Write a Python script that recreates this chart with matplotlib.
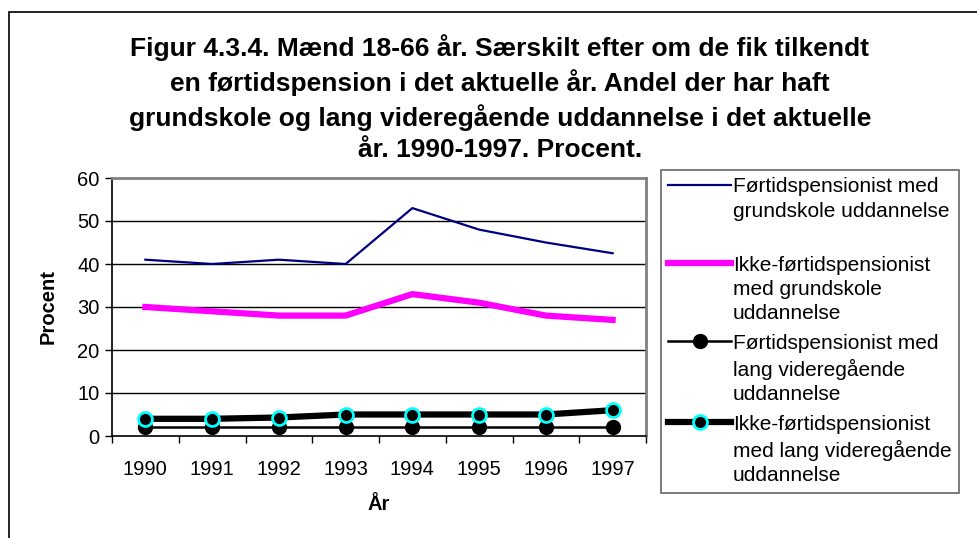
import matplotlib.pyplot as plt
from matplotlib.patches import Rectangle
from matplotlib.offsetbox import HPacker

plt.rcParams['font.family'] = ['Liberation Sans', 'DejaVu Sans']

# data
years = ['1990', '1991', '1992', '1993', '1994', '1995', '1996', '1997']
fp_grund = [41, 40, 41, 40, 53, 48, 45, 42.5]
ikke_grund = [30, 29, 28, 28, 33, 31, 28, 27]
fp_lang = [2, 2, 2, 2, 2, 2, 2, 2]
ikke_lang = [4, 4, 4.3, 5, 5, 5, 5, 6]

labels = ['Førtidspensionist med\ngrundskole uddannelse\n ',
          'Ikke-førtidspensionist\nmed grundskole\nuddannelse',
          'Førtidspensionist med\nlang videregående\nuddannelse',
          'Ikke-førtidspensionist\nmed lang videregående\nuddannelse']

title = ('Figur 4.3.4. Mænd 18-66 år. Særskilt efter om de fik tilkendt\n'
         'en førtidspension i det aktuelle år. Andel der har haft\n'
         'grundskole og lang videregående uddannelse i det aktuelle\n'
         'år. 1990-1997. Procent.')

W, H = 977, 538
fig = plt.figure(figsize=(W / 100, H / 100), dpi=100)

# outer frame
fig.patches.append(Rectangle((9 / W, -0.1), 1.2, 1 - 12 / H + 0.1,
                             transform=fig.transFigure, fill=False,
                             edgecolor='black', linewidth=1.2))

fig.text(500 / W, 1 - 98 / H, title, ha='center', va='center',
         fontsize=19, fontweight='bold', linespacing=1.36)

ax = fig.add_axes([112 / W, 1 - 436 / H, (646 - 112) / W, (436 - 178) / H])
x = list(range(len(years)))

ax.plot(x, fp_grund, color='#000080', lw=1.6, label=labels[0])
ax.plot(x, ikke_grund, color='#FF00FF', lw=4.5, label=labels[1])
ax.plot(x, fp_lang, color='black', lw=1.8, marker='o', ms=10,
        mfc='black', mec='black', label=labels[2])
ax.plot(x, ikke_lang, color='black', lw=4.5, marker='o', ms=10,
        mfc='black', mec='#00FFFF', mew=2, label=labels[3])

ax.set_xlim(-0.5, 7.5)
ax.set_ylim(0, 60)
ax.set_yticks(range(0, 61, 10))
for yv in range(10, 60, 10):
    ax.axhline(yv, color='black', lw=1, zorder=0)

ax.set_xticks([i - 0.5 for i in range(9)])
ax.set_xticklabels([])
ax.set_xticks(x, minor=True)
ax.set_xticklabels(years, minor=True)
ax.tick_params(axis='x', which='major', direction='out', length=5, width=1)
ax.tick_params(axis='x', which='minor', length=0, pad=17, labelsize=14.5)
ax.tick_params(axis='y', direction='out', length=5, width=1, labelsize=14.5, pad=4)

for s in ['top', 'right']:
    ax.spines[s].set_color('#808080')
    ax.spines[s].set_linewidth(2)
for s in ['left', 'bottom']:
    ax.spines[s].set_color('black')
    ax.spines[s].set_linewidth(1.2)

ax.set_ylabel('Procent', fontsize=14.5, fontweight='bold', labelpad=14)
ax.set_xlabel('År', fontsize=14.5, fontweight='bold', labelpad=12)

leg = fig.legend(loc='upper left', bbox_to_anchor=(661 / W, 1 - 170 / H),
                 fontsize=15, frameon=True, fancybox=False, shadow=False,
                 handlelength=3.0, handletextpad=0.1, borderpad=0.35,
                 labelspacing=0.5, borderaxespad=0)
leg.get_frame().set_edgecolor('#404040')
leg.get_frame().set_linewidth(1.2)
for t in leg.get_texts():
    t.set_linespacing(1.36)
# put each key level with the first line of its label
for hp in leg.findobj(HPacker):
    hp.align = 'top'

fig.savefig('out.png', dpi=100)
